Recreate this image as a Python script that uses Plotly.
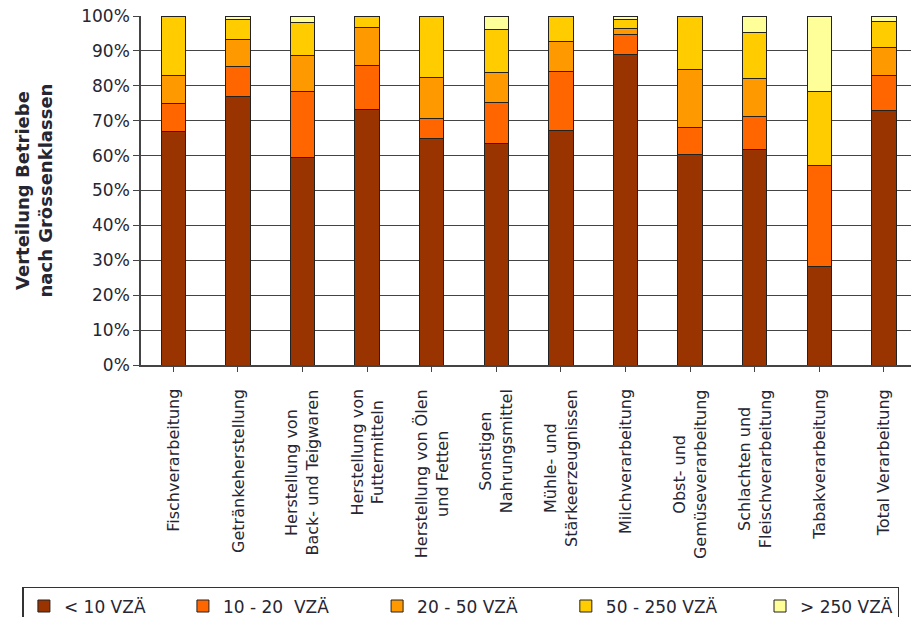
import plotly.graph_objects as go

categories = [
    "Fischverarbeitung",
    "Getränkeherstellung",
    "Herstellung von<br>Back- und Teigwaren",
    "Herstellung von<br>Futtermitteln",
    "Herstellung von Ölen<br>und Fetten",
    "Sonstigen<br>Nahrungsmittel",
    "Mühle- und<br>Stärkeerzeugnissen",
    "Milchverarbeitung",
    "Obst- und<br>Gemüseverarbeitung",
    "Schlachten und<br>Fleischverarbeitung",
    "Tabakverarbeitung",
    "Total Verarbeitung",
]

series_names = ["< 10 VZÄ", "10 - 20 \u00a0VZÄ", "20 - 50 VZÄ", "50 - 250 VZÄ", "> 250 VZÄ"]

lt10 = [67.0, 77.0, 59.4, 73.2, 65.0, 63.4, 67.2, 88.9, 60.2, 61.8, 28.3, 72.8]
s10_20 = [8.0, 8.4, 19.0, 12.7, 5.5, 11.7, 17.0, 5.7, 7.9, 9.5, 28.8, 10.2]
s20_50 = [8.0, 7.8, 10.4, 10.7, 11.8, 8.7, 8.6, 1.8, 16.5, 10.9, 0.0, 7.9]
s50_250 = [17.0, 5.8, 9.2, 3.4, 17.7, 12.3, 7.2, 2.6, 15.4, 13.0, 21.3, 7.4]
gt250 = [0.0, 1.0, 2.0, 0.0, 0.0, 3.9, 0.0, 1.0, 0.0, 4.8, 21.6, 1.7]

y_tick_vals = [0, 10, 20, 30, 40, 50, 60, 70, 80, 90, 100]
y_tick_text = [f"{v}%" for v in y_tick_vals]
y_title = "Verteilung Betriebe<br>nach Grössenklassen"

colors = ["#993300", "#FF6600", "#FF9900", "#FFCC00", "#FFFF99"]
series_values = [lt10, s10_20, s20_50, s50_250, gt250]
# trailing non-breaking spaces widen the gap between legend entries
legend_pad = [6, 8, 8, 7, 0]

FONT = "DejaVu Sans"
TXT = "#262633"

x_idx = list(range(len(categories)))

fig = go.Figure()
for name, vals, col, pad in zip(series_names, series_values, colors, legend_pad):
    fig.add_trace(go.Bar(
        x=x_idx, y=vals, name=name + "\u00a0" * pad,
        marker=dict(color=col, line=dict(color="#222222", width=1)),
        hovertemplate=name + ": %{y}%<extra></extra>",
    ))

annotations = []
for i, lab in enumerate(categories):
    annotations.append(dict(
        x=i, xref="x", y=0, yref="paper",
        text=lab, textangle=-90, showarrow=False,
        xanchor="center", yanchor="top", yshift=-22, align="center",
        font=dict(family=FONT, size=16, color=TXT),
    ))
annotations.append(dict(
    x=0, xref="paper", y=0.5, yref="paper", xshift=-108,
    text="<b>" + y_title + "</b>", textangle=-90, showarrow=False,
    xanchor="center", yanchor="middle", align="center",
    font=dict(family=FONT, size=18, color=TXT),
))

fig.update_layout(
    width=911, height=617,
    margin=dict(l=141, r=0, t=16, b=252, autoexpand=False),
    paper_bgcolor="white", plot_bgcolor="white",
    barmode="stack", bargap=0.62,
    font=dict(family=FONT, size=16, color=TXT),
    showlegend=True,
    legend=dict(
        orientation="h", x=-0.154, xanchor="left", y=-0.636, yanchor="top",
        bordercolor="#333333", borderwidth=1.5, traceorder="normal",
        font=dict(family=FONT, size=17, color=TXT),
        itemwidth=30,
    ),
    annotations=annotations,
    xaxis=dict(
        range=[-0.5, 11.42], tickvals=x_idx, showticklabels=False,
        tickson="boundaries", ticks="outside", ticklen=5, tickcolor="#444444",
        showline=True, linecolor="#444444", linewidth=1.5,
        showgrid=False, zeroline=False, fixedrange=True,
    ),
    yaxis=dict(
        range=[0, 100], tickvals=y_tick_vals, ticktext=y_tick_text,
        ticks="outside", ticklen=6, tickcolor="#444444",
        showline=True, linecolor="#444444", linewidth=1.5,
        showgrid=True, gridcolor="#444444", gridwidth=1,
        zeroline=False, tickfont=dict(family=FONT, size=17, color=TXT),
        fixedrange=True,
    ),
)

fig.write_html("out.html")
